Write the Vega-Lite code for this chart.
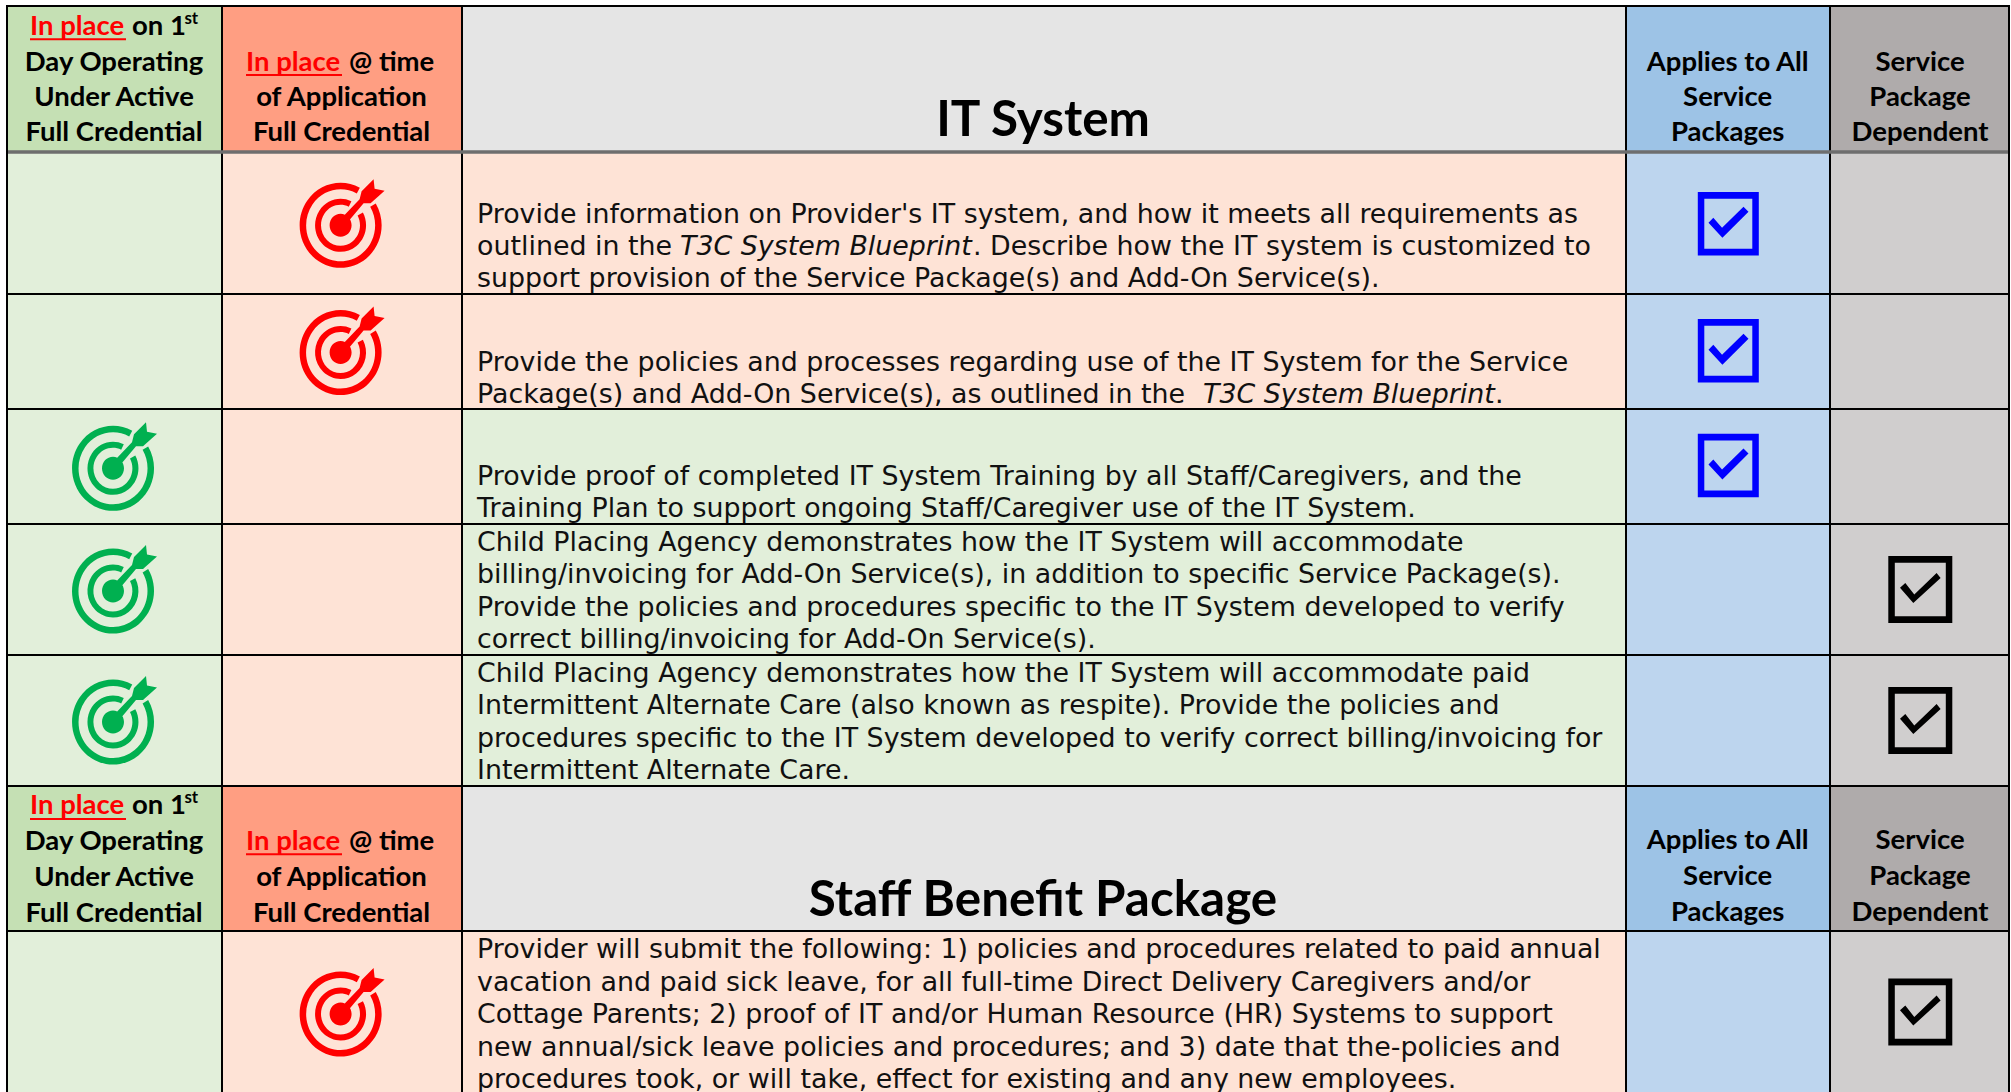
{
"$schema":"https://vega.github.io/schema/vega-lite/v6.json",
"width":2011,"height":1092,
"padding":0,
"autosize":{"type":"none"},
"background":"white",
"view":{"stroke":null},
"config":{"text":{"font":"DejaVu Sans"}},
"datasets":{
"cells":[
{"x0":7,"x1":222,"y0":6,"y1":152,"kind":"gh"},{"x0":222,"x1":462,"y0":6,"y1":152,"kind":"oh"},{"x0":462,"x1":1626,"y0":6,"y1":152,"kind":"th"},{"x0":1626,"x1":1830,"y0":6,"y1":152,"kind":"bh"},{"x0":1830,"x1":2009,"y0":6,"y1":152,"kind":"kh"},
{"x0":7,"x1":222,"y0":152,"y1":294,"kind":"g"},{"x0":222,"x1":462,"y0":152,"y1":294,"kind":"o"},{"x0":462,"x1":1626,"y0":152,"y1":294,"kind":"o"},{"x0":1626,"x1":1830,"y0":152,"y1":294,"kind":"b"},{"x0":1830,"x1":2009,"y0":152,"y1":294,"kind":"k"},
{"x0":7,"x1":222,"y0":294,"y1":409,"kind":"g"},{"x0":222,"x1":462,"y0":294,"y1":409,"kind":"o"},{"x0":462,"x1":1626,"y0":294,"y1":409,"kind":"o"},{"x0":1626,"x1":1830,"y0":294,"y1":409,"kind":"b"},{"x0":1830,"x1":2009,"y0":294,"y1":409,"kind":"k"},
{"x0":7,"x1":222,"y0":409,"y1":524,"kind":"g"},{"x0":222,"x1":462,"y0":409,"y1":524,"kind":"o"},{"x0":462,"x1":1626,"y0":409,"y1":524,"kind":"g"},{"x0":1626,"x1":1830,"y0":409,"y1":524,"kind":"b"},{"x0":1830,"x1":2009,"y0":409,"y1":524,"kind":"k"},
{"x0":7,"x1":222,"y0":524,"y1":655,"kind":"g"},{"x0":222,"x1":462,"y0":524,"y1":655,"kind":"o"},{"x0":462,"x1":1626,"y0":524,"y1":655,"kind":"g"},{"x0":1626,"x1":1830,"y0":524,"y1":655,"kind":"b"},{"x0":1830,"x1":2009,"y0":524,"y1":655,"kind":"k"},
{"x0":7,"x1":222,"y0":655,"y1":786,"kind":"g"},{"x0":222,"x1":462,"y0":655,"y1":786,"kind":"o"},{"x0":462,"x1":1626,"y0":655,"y1":786,"kind":"g"},{"x0":1626,"x1":1830,"y0":655,"y1":786,"kind":"b"},{"x0":1830,"x1":2009,"y0":655,"y1":786,"kind":"k"},
{"x0":7,"x1":222,"y0":786,"y1":931,"kind":"gh"},{"x0":222,"x1":462,"y0":786,"y1":931,"kind":"oh"},{"x0":462,"x1":1626,"y0":786,"y1":931,"kind":"th"},{"x0":1626,"x1":1830,"y0":786,"y1":931,"kind":"bh"},{"x0":1830,"x1":2009,"y0":786,"y1":931,"kind":"kh"},
{"x0":7,"x1":222,"y0":931,"y1":1092,"kind":"g"},{"x0":222,"x1":462,"y0":931,"y1":1092,"kind":"o"},{"x0":462,"x1":1626,"y0":931,"y1":1092,"kind":"o"},{"x0":1626,"x1":1830,"y0":931,"y1":1092,"kind":"b"},{"x0":1830,"x1":2009,"y0":931,"y1":1092,"kind":"k"}
],
"vlines":[{"x":7,"y":5,"y2":1092},{"x":222,"y":5,"y2":1092},{"x":462,"y":5,"y2":1092},{"x":1626,"y":5,"y2":1092},{"x":1830,"y":5,"y2":1092},{"x":2009,"y":5,"y2":1092}],
"hlines":[{"y":6,"x":6,"x2":2010},{"y":294,"x":6,"x2":2010},{"y":409,"x":6,"x2":2010},{"y":524,"x":6,"x2":2010},{"y":655,"x":6,"x2":2010},{"y":786,"x":6,"x2":2010},{"y":931,"x":6,"x2":2010}],
"hthick":[{"y":152,"x":8,"x2":2008}],
"hdrC":[
{"x":114,"y":70.7,"t":"Day Operating"},{"x":114,"y":105.7,"t":"Under Active"},{"x":114,"y":141.3,"t":"Full Credential"},
{"x":341.5,"y":105.7,"t":"of Application"},{"x":341.5,"y":141.3,"t":"Full Credential"},
{"x":1727.7,"y":70.7,"t":"Applies to All"},{"x":1727.7,"y":105.7,"t":"Service"},{"x":1727.7,"y":141.3,"t":"Packages"},
{"x":1920,"y":70.7,"t":"Service"},{"x":1920,"y":105.7,"t":"Package"},{"x":1920,"y":141.3,"t":"Dependent"},
{"x":114,"y":850,"t":"Day Operating"},{"x":114,"y":885.7,"t":"Under Active"},{"x":114,"y":921.7,"t":"Full Credential"},
{"x":341.5,"y":885.7,"t":"of Application"},{"x":341.5,"y":921.7,"t":"Full Credential"},
{"x":1727.7,"y":849,"t":"Applies to All"},{"x":1727.7,"y":885,"t":"Service"},{"x":1727.7,"y":920.7,"t":"Packages"},
{"x":1920,"y":849,"t":"Service"},{"x":1920,"y":885,"t":"Package"},{"x":1920,"y":920.7,"t":"Dependent"}
],
"hdrL":[
{"x":132,"y":35,"t":"on 1"},{"x":349,"y":70.7,"t":"@ time"},{"x":132,"y":814,"t":"on 1"},{"x":349,"y":850,"t":"@ time"}
],
"hdrRed":[
{"x":30,"y":35,"t":"In place"},{"x":246,"y":70.7,"t":"In place"},{"x":30,"y":814,"t":"In place"},{"x":246,"y":850,"t":"In place"}
],
"under":[
{"x":30,"x2":126,"y":39.3},{"x":246,"x2":342,"y":75},{"x":30,"x2":126,"y":819},{"x":246,"x2":342,"y":854.3}
],
"sup":[{"x":184.4,"y":24,"t":"st"},{"x":184.4,"y":803,"t":"st"}],
"titles":[{"x":1043,"y":136,"t":"IT System"},{"x":1043,"y":915.7,"t":"Staff Benefit Package"}],
"body":[
{"x":477,"y":222.7,"t":"Provide information on Provider's IT system, and how it meets all requirements as"},
{"x":477,"y":255,"t":"outlined in the"},
{"x":973,"y":255,"t":". Describe how the IT system is customized to"},
{"x":477,"y":287.3,"t":"support provision of the Service Package(s) and Add-On Service(s)."},
{"x":477,"y":370.5,"t":"Provide the policies and processes regarding use of the IT System for the Service"},
{"x":477,"y":403,"t":"Package(s) and Add-On Service(s), as outlined in the"},
{"x":1495,"y":403,"t":"."},
{"x":477,"y":485,"t":"Provide proof of completed IT System Training by all Staff/Caregivers, and the"},
{"x":477,"y":517.3,"t":"Training Plan to support ongoing Staff/Caregiver use of the IT System."},
{"x":477,"y":550.7,"t":"Child Placing Agency demonstrates how the IT System will accommodate"},
{"x":477,"y":583.3,"t":"billing/invoicing for Add-On Service(s), in addition to specific Service Package(s)."},
{"x":477,"y":616,"t":"Provide the policies and procedures specific to the IT System developed to verify"},
{"x":477,"y":648.3,"t":"correct billing/invoicing for Add-On Service(s)."},
{"x":477,"y":681.7,"t":"Child Placing Agency demonstrates how the IT System will accommodate paid"},
{"x":477,"y":714.3,"t":"Intermittent Alternate Care (also known as respite). Provide the policies and"},
{"x":477,"y":747,"t":"procedures specific to the IT System developed to verify correct billing/invoicing for"},
{"x":477,"y":779.3,"t":"Intermittent Alternate Care."},
{"x":477,"y":958.3,"t":"Provider will submit the following: 1) policies and procedures related to paid annual"},
{"x":477,"y":991,"t":"vacation and paid sick leave, for all full-time Direct Delivery Caregivers and/or"},
{"x":477,"y":1023.3,"t":"Cottage Parents; 2) proof of IT and/or Human Resource (HR) Systems to support"},
{"x":477,"y":1055.7,"t":"new annual/sick leave policies and procedures; and 3) date that the-policies and"},
{"x":477,"y":1088.3,"t":"procedures took, or will take, effect for existing and any new employees."}
],
"ital":[
{"x":680,"y":255,"t":"T3C System Blueprint"},
{"x":1203,"y":403,"t":"T3C System Blueprint"}
],
"redT":[{"x":340.6,"y":225.3},{"x":340.6,"y":352.5},{"x":340.6,"y":1014}],
"greenT":[{"x":113,"y":468.3},{"x":113,"y":591},{"x":113,"y":722}],
"blueC":[{"x":1728.3,"y":223.7},{"x":1728.3,"y":350.8},{"x":1728.3,"y":465.5}],
"blackC":[{"x":1920.3,"y":589.4},{"x":1920.3,"y":720.4},{"x":1920.3,"y":1012}]
},
"encoding":{
"x":{"field":"x","type":"quantitative","scale":{"domain":[0,2011],"range":[0,2011],"nice":false,"zero":false},"axis":null},
"y":{"field":"y","type":"quantitative","scale":{"domain":[0,1092],"range":[0,1092],"nice":false,"zero":false},"axis":null}
},
"layer":[
{"data":{"name":"cells"},"mark":{"type":"rect","strokeWidth":0},"encoding":{
"x":{"field":"x0","type":"quantitative","axis":null,"scale":{"domain":[0,2011],"range":[0,2011],"nice":false,"zero":false}},"x2":{"field":"x1"},
"y":{"field":"y0","type":"quantitative","axis":null,"scale":{"domain":[0,1092],"range":[0,1092],"nice":false,"zero":false}},"y2":{"field":"y1"},
"color":{"field":"kind","type":"nominal","legend":null,"scale":{"domain":["gh","oh","th","bh","kh","g","o","b","k"],"range":["#C5E0B4","#FF9E82","#E5E5E5","#9DC3E6","#AFABAB","#E2EFDA","#FEE3D6","#BDD5EE","#D0CECE"]}}
}},
{"data":{"name":"vlines"},"mark":{"type":"rule","color":"#000000","strokeWidth":2},"encoding":{"y2":{"field":"y2"}}},
{"data":{"name":"hlines"},"mark":{"type":"rule","color":"#000000","strokeWidth":2},"encoding":{"x2":{"field":"x2"}}},
{"data":{"name":"hthick"},"mark":{"type":"rule","color":"#6E6E6E","strokeWidth":3.5},"encoding":{"x2":{"field":"x2"}}},
{"data":{"name":"under"},"mark":{"type":"rule","color":"#FF0000","strokeWidth":2},"encoding":{"x2":{"field":"x2"}}},
{"data":{"name":"hdrC"},"mark":{"type":"text","font":"Lato","fontWeight":"bold","fontSize":27.5,"align":"center","baseline":"alphabetic","color":"#000000"},"encoding":{"text":{"field":"t"}}},
{"data":{"name":"hdrL"},"mark":{"type":"text","font":"Lato","fontWeight":"bold","fontSize":27.5,"align":"left","baseline":"alphabetic","color":"#000000"},"encoding":{"text":{"field":"t"}}},
{"data":{"name":"hdrRed"},"mark":{"type":"text","font":"Lato","fontWeight":"bold","fontSize":27.5,"align":"left","baseline":"alphabetic","color":"#FF0000"},"encoding":{"text":{"field":"t"}}},
{"data":{"name":"sup"},"mark":{"type":"text","font":"Lato","fontWeight":"bold","fontSize":17,"align":"left","baseline":"alphabetic","color":"#000000"},"encoding":{"text":{"field":"t"}}},
{"data":{"name":"titles"},"mark":{"type":"text","font":"Lato","fontWeight":"bold","fontSize":49.4,"align":"center","baseline":"alphabetic","color":"#000000"},"encoding":{"text":{"field":"t"}}},
{"data":{"name":"body"},"mark":{"type":"text","font":"DejaVu Sans","fontSize":26.85,"align":"left","baseline":"alphabetic","color":"#111111"},"encoding":{"text":{"field":"t"}}},
{"data":{"name":"ital"},"mark":{"type":"text","font":"DejaVu Sans","fontStyle":"italic","fontSize":26.85,"align":"left","baseline":"alphabetic","color":"#111111"},"encoding":{"text":{"field":"t"}}},
{"data":{"name":"redT"},"mark":{"type":"point","filled":true,"size":10000,"color":"#FF0000","opacity":1,"strokeWidth":0,"shape":"M.385 -.75A.82 .85 0 1 0 .703 -.438L.592 -.371A.69 .72 0 1 1 .324 -.636ZM.216 -.48A.51 .53 0 1 0 .446 -.256L.34 -.198A.39 .41 0 1 1 .164 -.372ZM-.22 0A.22 .23 0 1 0 .22 0A.22 .23 0 1 0 -.22 0ZM-.06 -.06L.04 .06L.46 -.44L.6 -.44L.88 -.69L.68 -.73L.66 -.92L.42 -.68L.38 -.52Z"}},
{"data":{"name":"greenT"},"mark":{"type":"point","filled":true,"size":10000,"color":"#00B050","opacity":1,"strokeWidth":0,"shape":"M.385 -.75A.82 .85 0 1 0 .703 -.438L.592 -.371A.69 .72 0 1 1 .324 -.636ZM.216 -.48A.51 .53 0 1 0 .446 -.256L.34 -.198A.39 .41 0 1 1 .164 -.372ZM-.22 0A.22 .23 0 1 0 .22 0A.22 .23 0 1 0 -.22 0ZM-.06 -.06L.04 .06L.46 -.44L.6 -.44L.88 -.69L.68 -.73L.66 -.92L.42 -.68L.38 -.52Z"}},
{"data":{"name":"blueC"},"mark":{"type":"point","filled":true,"size":10000,"color":"#0000FF","opacity":1,"strokeWidth":0,"shape":"M-.61 -.634H.61V.634H-.61ZM-.48 -.5V.5H.48V-.5ZM-.396 -.02L-.3 -.12L-.125 .08L.304 -.34L.404 -.24L-.118 .28Z"}},
{"data":{"name":"blackC"},"mark":{"type":"point","filled":true,"size":10000,"color":"#000000","opacity":1,"strokeWidth":0,"shape":"M-.64 -.67H.64V.67H-.64ZM-.51 -.535V.535H.51V-.535ZM-.406 -.034L-.3 -.13L-.12 .1L.326 -.33L.406 -.23L-.14 .27Z"}}
]
}
